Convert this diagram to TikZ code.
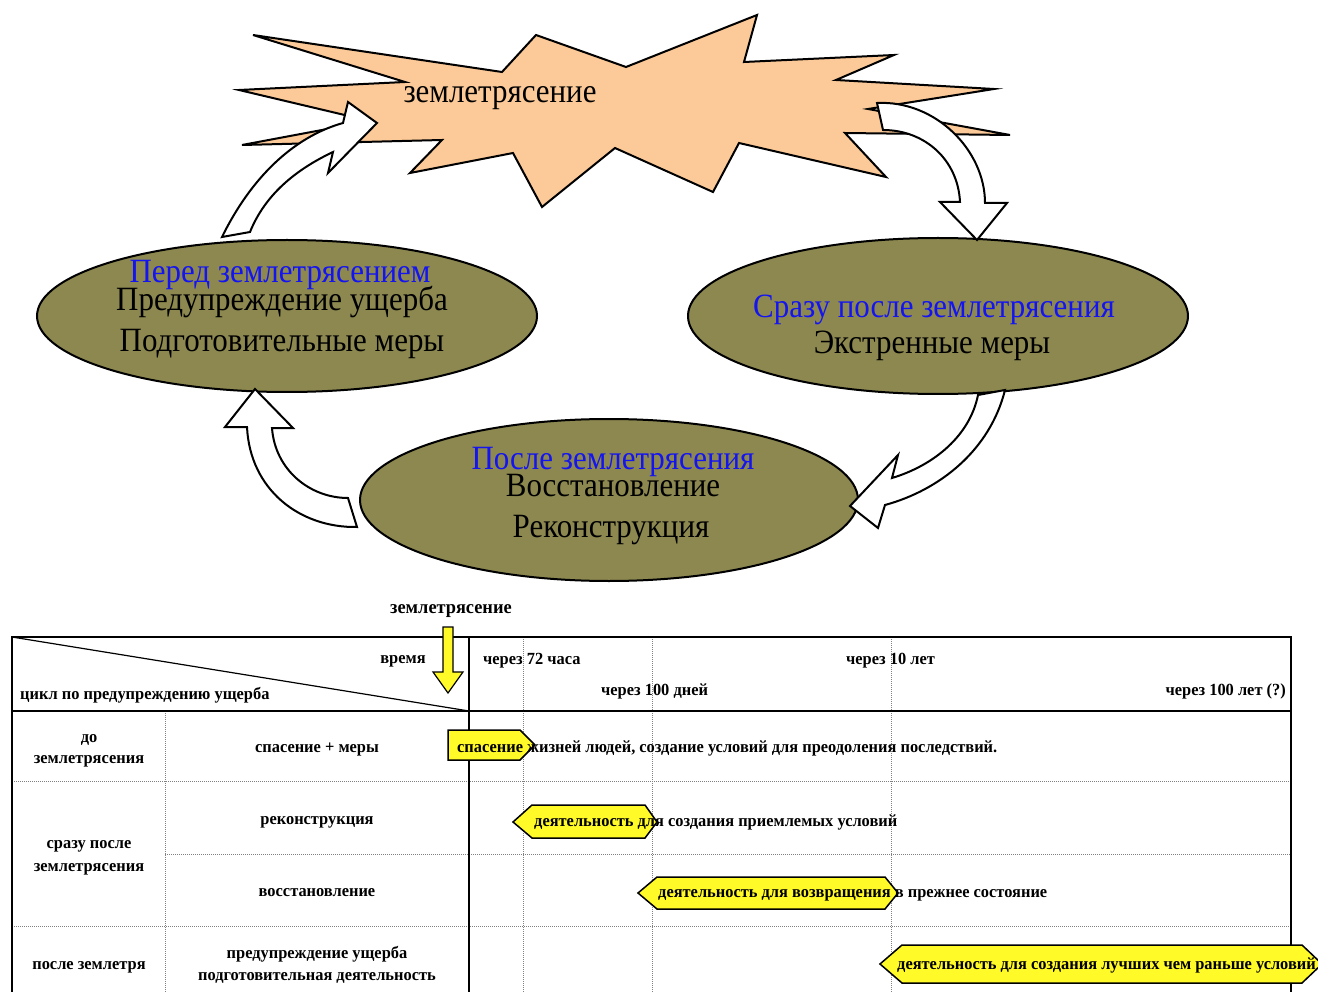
\documentclass[tikz,border=0pt]{standalone}
\usepackage{fontspec}
\setmainfont{Liberation Serif}
\newfontfamily\bigf[FakeStretch=0.91]{Liberation Serif}
\newfontfamily\tabf[FakeStretch=0.965]{Liberation Serif}
\usetikzlibrary{shapes.geometric}
\definecolor{peach}{RGB}{252,202,152}
\definecolor{olivefill}{RGB}{140,136,80}
\definecolor{blu}{RGB}{20,20,240}
\definecolor{yel}{RGB}{255,250,40}
\begin{document}
\begin{tikzpicture}[x=1pt,y=-1pt,
 big/.style={font=\bigf\fontsize{34}{40}\selectfont, inner sep=0pt, anchor=base},
 tab/.style={font=\tabf\bfseries\fontsize{17}{20}\selectfont, inner sep=0pt, anchor=base},
 ell/.style={ellipse, draw, line width=2pt, fill=olivefill, inner sep=0pt},
 blockarrow/.style={draw, line width=2pt, fill=white, line join=miter},
 ybox/.style={draw, line width=1.5pt, fill=yel, line join=miter},
 gridline/.style={densely dotted, gray, line width=1pt},
 frameline/.style={line width=1.5pt}]
\useasboundingbox (0,0) rectangle (1318,992);

% ---------- star ----------
\draw[line width=2pt, fill=peach, line join=miter]
 (253,35) -- (502,72) -- (536,35) -- (626,67) -- (757,15) -- (744,62) -- (894,55)
 -- (836,80) -- (994,89) -- (868,109) -- (1010,135) -- (845,133) -- (886,177)
 -- (739,143) -- (713,192) -- (615,148) -- (542,207) -- (513,153) -- (410,173)
 -- (442,140) -- (242,145) -- (370,121) -- (239,90) -- (405,82) -- cycle;
\node[big] (quake) at (500,103) {землетрясение};

% ---------- ellipses ----------
\node[ell, minimum width=500pt, minimum height=152pt] (before) at (287,316) {};
\node[ell, minimum width=500pt, minimum height=156pt] (after) at (938,316) {};
\node[ell, minimum width=498pt, minimum height=162pt] (later) at (609,500) {};

\node[big, text=blu] (b1) at (280,283) {Перед землетрясением};
\node[big] (b2) at (282,311) {Предупреждение ущерба};
\node[big] (b3) at (282,352) {Подготовительные меры};

\node[big, text=blu] (a1) at (934,318) {Сразу после землетрясения};
\node[big] (a2) at (932,354) {Экстренные меры};

\node[big, text=blu] (l1) at (613,469) {После землетрясения};
\node[big] (l2) at (613,496) {Восстановление};
\node[big] (l3) at (611,537) {Реконструкция};

% ---------- block arrows ----------
\draw[blockarrow] (222,237) .. controls (255,170) and (300,135) .. (343,123)
 -- (348,102) -- (377,123) -- (328,173) -- (333,152)
 .. controls (295,170) and (265,195) .. (250,232) -- cycle;
\draw[blockarrow] (877,103) .. controls (935,100) and (985,150) .. (985,203)
 -- (1007,203) -- (977,240) -- (940,202) -- (960,202)
 .. controls (958,160) and (925,130) .. (883,130) -- cycle;
\draw[blockarrow] (1005,390) .. controls (990,450) and (940,490) .. (885,505)
 -- (878,528) -- (850,506) -- (898,455) -- (892,478)
 .. controls (935,465) and (970,435) .. (978,395) -- cycle;
\draw[blockarrow] (357,527) .. controls (300,528) and (250,490) .. (247,427)
 -- (225,427) -- (255,389) -- (293,428) -- (272,428)
 .. controls (275,470) and (310,498) .. (348,498) -- cycle;

% ---------- table ----------
\draw[gridline] (165,711) -- (165,992);
\draw[gridline] (523,637) -- (523,992);
\draw[gridline] (652,637) -- (652,992);
\draw[gridline] (891,637) -- (891,992);
\draw[gridline] (12,781) -- (1291,781);
\draw[gridline] (165,854) -- (1291,854);
\draw[gridline] (12,926) -- (1291,926);
\draw[frameline] (12,992) -- (12,637) -- (1291,637) -- (1291,992);
\draw[frameline] (12,711) -- (1291,711);
\draw[frameline] (469,637) -- (469,992);
\draw[line width=1.2pt] (12,637) -- (469,711);

% yellow down arrow
\draw[ybox, line width=1.2pt] (443,627) -- (453,627) -- (453,672) -- (463,672) -- (448,693)
 -- (433,672) -- (443,672) -- cycle;
\node[tab, font=\tabf\bfseries\fontsize{19}{21}\selectfont] (eq) at (451,613) {землетрясение};

\node[tab] (time) at (403,663) {время};
\node[tab, anchor=base west] (cyc) at (20,699) {цикл по предупреждению ущерба};
\node[tab, anchor=base west] (t72) at (483,664) {через 72 часа};
\node[tab, anchor=base west] (t100d) at (601,695) {через 100 дней};
\node[tab, anchor=base west] (t10) at (846,664) {через 10 лет};
\node[tab, anchor=base east] (t100y) at (1286,695) {через 100 лет (?)};

\node[tab] (r1a) at (89,742) {до};
\node[tab] (r1b) at (89,763) {землетрясения};
\node[tab] (r1c) at (317,752) {спасение + меры};
\node[tab] (r2a) at (89,848) {сразу после};
\node[tab] (r2b) at (89,871) {землетрясения};
\node[tab] (r2c) at (317,824) {реконструкция};
\node[tab] (r3c) at (317,896) {восстановление};
\node[tab] (r4a) at (89,969) {после землетря};
\node[tab] (r4b) at (317,958) {предупреждение ущерба};
\node[tab] (r4c) at (317,980) {подготовительная деятельность};

% yellow activity shapes
\draw[ybox] (448,730) -- (520,730) -- (535,745) -- (520,760) -- (448,760) -- cycle;
\node[tab, anchor=base west] (s1) at (457,752) {спасение жизней людей, создание условий для преодоления последствий.};
\draw[ybox] (513,822) -- (532,805) -- (645,805) -- (657,822) -- (645,838) -- (532,838) -- cycle;
\node[tab, anchor=base west] (s2) at (534,826) {деятельность для создания приемлемых условий};
\draw[ybox] (638,893) -- (657,877) -- (885,877) -- (898,893) -- (885,909) -- (657,909) -- cycle;
\node[tab, anchor=base west] (s3) at (658,897) {деятельность для возвращения в прежнее состояние};
\draw[ybox] (880,964) -- (902,945) -- (1302,945) -- (1322,964) -- (1302,983) -- (902,983) -- cycle;
\node[tab, anchor=base west] (s4) at (897,969) {деятельность для создания лучших чем раньше условий};
\end{tikzpicture}
\end{document}
